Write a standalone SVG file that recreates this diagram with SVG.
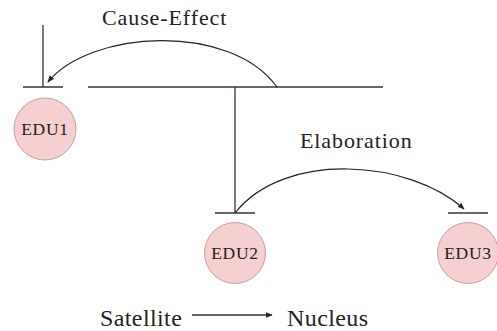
<svg xmlns="http://www.w3.org/2000/svg" width="497" height="331" viewBox="0 0 497 331">
<defs>
<marker id="arr" viewBox="0 0 10 10" refX="9" refY="5" markerWidth="7" markerHeight="7" markerUnits="userSpaceOnUse" orient="auto">
<path d="M0,1 L10,5 L0,9 z" fill="#222"/>
</marker>
<style>
.ln{stroke:#3a3333;stroke-width:1.3;fill:none}
.arc{stroke:#222;stroke-width:1.2;fill:none}
.nd{fill:#f6cfd0;stroke:#b89090;stroke-width:0.8}
.lab{font-size:22px;letter-spacing:0.9px}
.edu{font-size:17.5px;letter-spacing:0.7px;text-anchor:middle}
.leg{font-size:24px;letter-spacing:0.4px}
</style>
</defs>
<rect width="497" height="331" fill="#fff"/>
<g id="tree">
<line class="ln" x1="43" y1="25" x2="43" y2="87"/>
<line class="ln" x1="23" y1="87" x2="63" y2="87"/>
<line class="ln" x1="88" y1="87" x2="383" y2="87"/>
<line class="ln" x1="235" y1="87" x2="235" y2="213"/>
<line class="ln" x1="215" y1="213" x2="255" y2="213"/>
<line class="ln" x1="448" y1="213" x2="488" y2="213"/>
</g>
<g id="connectors">
<path class="arc" d="M277,87 C230,22 90,30 48,82" marker-end="url(#arr)"/>
<path class="arc" d="M235,213 C285,150 410,160 464,209" marker-end="url(#arr)"/>
<line class="ln" x1="192" y1="315" x2="272" y2="315" marker-end="url(#arr)"/>
</g>
<g font-family="Liberation Serif, Times New Roman, serif" fill="#222">
<g id="edu1">
<circle class="nd" cx="45" cy="129" r="31"/>
<text class="edu" x="45" y="135">EDU1</text>
</g>
<g id="edu2">
<circle class="nd" cx="235" cy="253" r="30.5"/>
<text class="edu" x="235" y="258.5">EDU2</text>
</g>
<g id="edu3">
<circle class="nd" cx="468" cy="253" r="30.5"/>
<text class="edu" x="468" y="258.5">EDU3</text>
</g>
<g id="labels">
<text class="lab" x="102" y="25">Cause-Effect</text>
<text class="lab" x="300" y="148">Elaboration</text>
<text class="leg" x="100" y="326">Satellite</text>
<text class="leg" x="287" y="326">Nucleus</text>
</g>
</g>
</svg>
